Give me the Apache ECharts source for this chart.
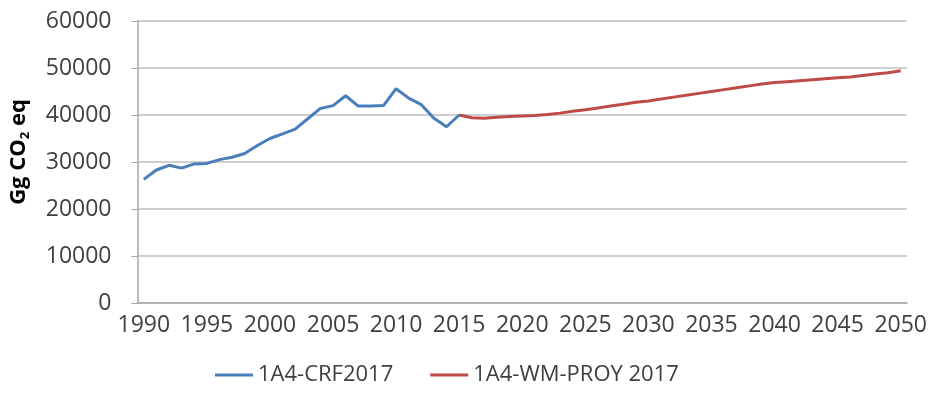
<!DOCTYPE html>
<html>
<head>
<meta charset="utf-8">
<script src="https://cdn.jsdelivr.net/npm/echarts@6/dist/echarts.min.js"></script>
<style>html,body{margin:0;padding:0;background:#fff}#c{width:933px;height:399px}</style>
</head>
<body>
<div id="c"></div>
<script>
var years = [];
for (var y = 1990; y <= 2050; y++) years.push(String(y));

var crfYears = ['1990','1991','1992','1993','1994','1995','1996','1997','1998','1999','2000','2001','2002','2003','2004','2005','2006','2007','2008','2009','2010','2011','2012','2013','2014','2015'];
var crfValues = [26300,28300,29300,28700,29600,29700,30500,31000,31800,33500,35000,36000,37000,39200,41400,42000,44100,41900,41900,42000,45600,43600,42200,39300,37500,40000];

var proyYears = ['2015','2016','2017','2018','2019','2020','2021','2022','2023','2024','2025','2026','2027','2028','2029','2030','2031','2032','2033','2034','2035','2036','2037','2038','2039','2040','2041','2042','2043','2044','2045','2046','2047','2048','2049','2050'];
var proyValues = [40000,39400,39300,39500,39700,39800,39900,40100,40400,40800,41100,41500,41900,42300,42700,43000,43400,43800,44200,44600,45000,45400,45800,46200,46600,46900,47100,47300,47500,47700,47900,48100,48400,48700,49000,49400];

var yTicks = [0,10000,20000,30000,40000,50000,60000];

function pairs(ys, vs){ return ys.map(function(y,i){ return [y, vs[i]]; }); }

var font = 'Open Sans';
var chart = echarts.init(document.getElementById('c'));
chart.setOption({
  animation: false,
  grid: { left: 137, right: 26, top: 21, bottom: 96 },
  legend: {
    bottom: 8, left: 210,
    itemWidth: 38, itemHeight: 3, itemGap: 37,
    icon: 'rect',
    textStyle: { fontFamily: font, fontSize: 22, color: '#404040' },
    data: ['1A4-CRF2017','1A4-WM-PROY 2017']
  },
  xAxis: {
    type: 'category',
    data: years,
    boundaryGap: true,
    axisLine: { lineStyle: { color: '#a6a6a6', width: 1.5 } },
    axisTick: { interval: 4, length: 6, lineStyle: { color: '#a6a6a6' } },
    axisLabel: { interval: 4, margin: 11, fontFamily: font, fontSize: 23, color: '#404040' },
    splitLine: { show: false }
  },
  yAxis: {
    type: 'value',
    min: 0, max: 60000, interval: 10000,
    name: '{a|Gg CO}{b|2}{a| eq}',
    nameLocation: 'middle',
    nameRotate: 90,
    nameGap: 106,
    nameTextStyle: {
      padding: [0, 0, 0, 20],
      rich: {
        a: { fontFamily: font, fontSize: 22, fontWeight: 'bold', color: '#000' },
        b: { fontFamily: font, fontSize: 13, fontWeight: 'bold', color: '#000', padding: [12,0,0,0] }
      }
    },
    axisLine: { show: true, lineStyle: { color: '#a6a6a6', width: 1.5 } },
    axisTick: { show: true, length: 6, lineStyle: { color: '#a6a6a6' } },
    axisLabel: { margin: 26, fontFamily: font, fontSize: 23, color: '#404040',
      formatter: function(v){ return yTicks.indexOf(v) >= 0 ? String(v) : ''; } },
    splitLine: { lineStyle: { color: '#bfbfbf', width: 1.5 } }
  },
  series: [
    { name: '1A4-CRF2017', type: 'line', data: pairs(crfYears, crfValues),
      symbol: 'none', lineStyle: { color: '#4a7ebb', width: 3 }, itemStyle: { color: '#4a7ebb' } },
    { name: '1A4-WM-PROY 2017', type: 'line', data: pairs(proyYears, proyValues),
      symbol: 'none', lineStyle: { color: '#be4b48', width: 3 }, itemStyle: { color: '#be4b48' } }
  ]
});
</script>
</body>
</html>
